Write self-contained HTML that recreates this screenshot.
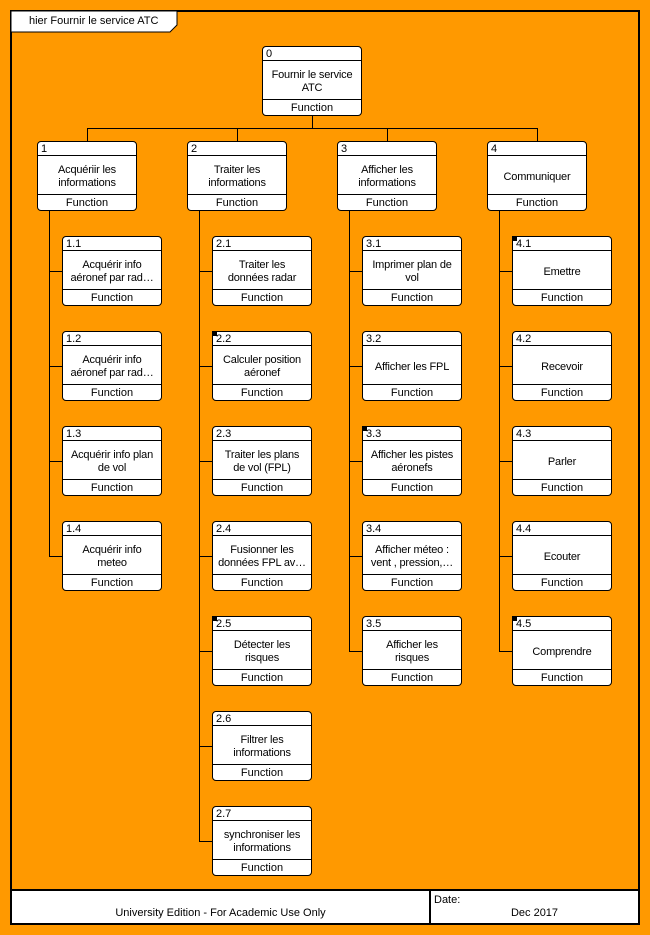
<!DOCTYPE html>
<html><head><meta charset="utf-8"><style>
*{margin:0;padding:0;box-sizing:border-box}
body{width:650px;height:935px;background:#ff9900;position:relative;overflow:hidden;font-family:"Liberation Sans","DejaVu Sans",sans-serif;font-size:11px;color:#000}
.a{position:absolute}
.h{position:absolute;height:1px;background:#000}
.v{position:absolute;width:1px;background:#000}
.b{position:absolute;width:100px;height:70px;background:#fff;border:1px solid #000;border-radius:4px}
.b .n{position:absolute;left:3px;top:1px;line-height:13px}
.b .l1{position:absolute;left:0;right:0;top:13px;height:1px;background:#000}
.b .l2{position:absolute;left:0;right:0;top:52px;height:1px;background:#000}
.b .t{position:absolute;left:1px;right:1px;top:16px;height:38px;display:flex;align-items:center;justify-content:center;text-align:center;line-height:13px;white-space:nowrap;letter-spacing:-0.2px}
.b .f{position:absolute;left:0;right:0;top:54px;height:15px;text-align:center;line-height:15px}
.b .k{position:absolute;left:-1px;top:-1px;width:5px;height:5px;background:#000}
</style></head><body>
<div class="a" style="left:10px;top:10px;width:630px;height:915px;border:2px solid #000"></div>
<svg class="a" style="left:11px;top:11px" width="170" height="22"><polygon points="0,0 166,0 166,14 159,21 0,21" fill="#fff" stroke="#000" stroke-width="1"/></svg>
<div class="a" style="left:29px;top:14px;line-height:14px">hier Fournir le service ATC</div>
<div class="a" style="left:10px;top:889px;width:630px;height:36px;background:#fff;border:2px solid #000"></div>
<div class="v" style="left:429px;top:890px;height:34px;width:2px"></div>
<div class="a" style="left:12px;top:906px;width:417px;text-align:center;line-height:14px">University Edition - For Academic Use Only</div>
<div class="a" style="left:434px;top:893px;line-height:14px">Date:</div>
<div class="a" style="left:431px;top:906px;width:207px;text-align:center;line-height:14px">Dec 2017</div>

<div class="v" style="left:312px;top:115px;height:13px"></div>
<div class="h" style="left:87px;top:128px;width:451px"></div>
<div class="v" style="left:87px;top:128px;height:13px"></div>
<div class="v" style="left:237px;top:128px;height:13px"></div>
<div class="v" style="left:387px;top:128px;height:13px"></div>
<div class="v" style="left:537px;top:128px;height:13px"></div>
<div class="v" style="left:49px;top:210px;height:347px"></div>
<div class="v" style="left:199px;top:210px;height:632px"></div>
<div class="v" style="left:349px;top:210px;height:442px"></div>
<div class="v" style="left:499px;top:210px;height:442px"></div>
<div class="h" style="left:49px;top:271px;width:13px"></div><div class="h" style="left:49px;top:366px;width:13px"></div><div class="h" style="left:49px;top:461px;width:13px"></div><div class="h" style="left:49px;top:556px;width:13px"></div>
<div class="h" style="left:199px;top:271px;width:13px"></div><div class="h" style="left:199px;top:366px;width:13px"></div><div class="h" style="left:199px;top:461px;width:13px"></div><div class="h" style="left:199px;top:556px;width:13px"></div><div class="h" style="left:199px;top:651px;width:13px"></div><div class="h" style="left:199px;top:746px;width:13px"></div><div class="h" style="left:199px;top:841px;width:13px"></div>
<div class="h" style="left:349px;top:271px;width:13px"></div><div class="h" style="left:349px;top:366px;width:13px"></div><div class="h" style="left:349px;top:461px;width:13px"></div><div class="h" style="left:349px;top:556px;width:13px"></div><div class="h" style="left:349px;top:651px;width:13px"></div>
<div class="h" style="left:499px;top:271px;width:13px"></div><div class="h" style="left:499px;top:366px;width:13px"></div><div class="h" style="left:499px;top:461px;width:13px"></div><div class="h" style="left:499px;top:556px;width:13px"></div><div class="h" style="left:499px;top:651px;width:13px"></div>

<div class="b" style="left:262px;top:46px"><span class="n">0</span><div class="l1"></div><div class="t">Fournir le service<br>ATC</div><div class="l2"></div><div class="f">Function</div></div>

<div class="b" style="left:37px;top:141px"><span class="n">1</span><div class="l1"></div><div class="t">Acquériir les<br>informations</div><div class="l2"></div><div class="f">Function</div></div>
<div class="b" style="left:187px;top:141px"><span class="n">2</span><div class="l1"></div><div class="t">Traiter les<br>informations</div><div class="l2"></div><div class="f">Function</div></div>
<div class="b" style="left:337px;top:141px"><span class="n">3</span><div class="l1"></div><div class="t">Afficher les<br>informations</div><div class="l2"></div><div class="f">Function</div></div>
<div class="b" style="left:487px;top:141px"><span class="n">4</span><div class="l1"></div><div class="t">Communiquer</div><div class="l2"></div><div class="f">Function</div></div>

<div class="b" style="left:62px;top:236px"><span class="n">1.1</span><div class="l1"></div><div class="t">Acquérir info<br>aéronef par rad…</div><div class="l2"></div><div class="f">Function</div></div>
<div class="b" style="left:62px;top:331px"><span class="n">1.2</span><div class="l1"></div><div class="t">Acquérir info<br>aéronef par rad…</div><div class="l2"></div><div class="f">Function</div></div>
<div class="b" style="left:62px;top:426px"><span class="n">1.3</span><div class="l1"></div><div class="t">Acquérir info plan<br>de vol</div><div class="l2"></div><div class="f">Function</div></div>
<div class="b" style="left:62px;top:521px"><span class="n">1.4</span><div class="l1"></div><div class="t">Acquérir info<br>meteo</div><div class="l2"></div><div class="f">Function</div></div>

<div class="b" style="left:212px;top:236px"><span class="n">2.1</span><div class="l1"></div><div class="t">Traiter les<br>données radar</div><div class="l2"></div><div class="f">Function</div></div>
<div class="b" style="left:212px;top:331px"><div class="k"></div><span class="n">2.2</span><div class="l1"></div><div class="t">Calculer position<br>aéronef</div><div class="l2"></div><div class="f">Function</div></div>
<div class="b" style="left:212px;top:426px"><span class="n">2.3</span><div class="l1"></div><div class="t">Traiter les plans<br>de vol (FPL)</div><div class="l2"></div><div class="f">Function</div></div>
<div class="b" style="left:212px;top:521px"><span class="n">2.4</span><div class="l1"></div><div class="t">Fusionner les<br>données FPL av…</div><div class="l2"></div><div class="f">Function</div></div>
<div class="b" style="left:212px;top:616px"><div class="k"></div><span class="n">2.5</span><div class="l1"></div><div class="t">Détecter les<br>risques</div><div class="l2"></div><div class="f">Function</div></div>
<div class="b" style="left:212px;top:711px"><span class="n">2.6</span><div class="l1"></div><div class="t">Filtrer les<br>informations</div><div class="l2"></div><div class="f">Function</div></div>
<div class="b" style="left:212px;top:806px"><span class="n">2.7</span><div class="l1"></div><div class="t">synchroniser les<br>informations</div><div class="l2"></div><div class="f">Function</div></div>

<div class="b" style="left:362px;top:236px"><span class="n">3.1</span><div class="l1"></div><div class="t">Imprimer plan de<br>vol</div><div class="l2"></div><div class="f">Function</div></div>
<div class="b" style="left:362px;top:331px"><span class="n">3.2</span><div class="l1"></div><div class="t">Afficher les FPL</div><div class="l2"></div><div class="f">Function</div></div>
<div class="b" style="left:362px;top:426px"><div class="k"></div><span class="n">3.3</span><div class="l1"></div><div class="t">Afficher les pistes<br>aéronefs</div><div class="l2"></div><div class="f">Function</div></div>
<div class="b" style="left:362px;top:521px"><span class="n">3.4</span><div class="l1"></div><div class="t">Afficher méteo :<br>vent , pression,…</div><div class="l2"></div><div class="f">Function</div></div>
<div class="b" style="left:362px;top:616px"><span class="n">3.5</span><div class="l1"></div><div class="t">Afficher les<br>risques</div><div class="l2"></div><div class="f">Function</div></div>

<div class="b" style="left:512px;top:236px"><div class="k"></div><span class="n">4.1</span><div class="l1"></div><div class="t">Emettre</div><div class="l2"></div><div class="f">Function</div></div>
<div class="b" style="left:512px;top:331px"><span class="n">4.2</span><div class="l1"></div><div class="t">Recevoir</div><div class="l2"></div><div class="f">Function</div></div>
<div class="b" style="left:512px;top:426px"><span class="n">4.3</span><div class="l1"></div><div class="t">Parler</div><div class="l2"></div><div class="f">Function</div></div>
<div class="b" style="left:512px;top:521px"><span class="n">4.4</span><div class="l1"></div><div class="t">Ecouter</div><div class="l2"></div><div class="f">Function</div></div>
<div class="b" style="left:512px;top:616px"><div class="k"></div><span class="n">4.5</span><div class="l1"></div><div class="t">Comprendre</div><div class="l2"></div><div class="f">Function</div></div>
</body></html>
